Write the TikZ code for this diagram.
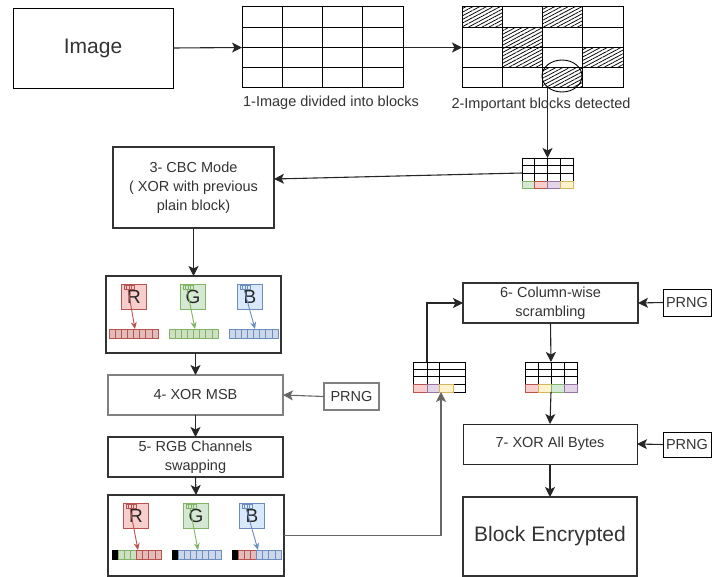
\documentclass[tikz,border=0pt]{standalone}
\usepackage{fontspec}
\setmainfont{Liberation Sans}
\usetikzlibrary{arrows.meta,patterns.meta,shapes.geometric}
\definecolor{rf}{HTML}{F8CECC}\definecolor{rs}{HTML}{B85450}
\definecolor{gf}{HTML}{D5E8D4}\definecolor{gs}{HTML}{82B366}
\definecolor{bf}{HTML}{DAE8FC}\definecolor{bs}{HTML}{6C8EBF}
\definecolor{pf}{HTML}{E1D5E7}\definecolor{ps}{HTML}{9673A6}
\definecolor{yf}{HTML}{FFF2CC}\definecolor{ys}{HTML}{D6B656}
\definecolor{kf}{HTML}{000000}\definecolor{txt}{HTML}{333333}
\colorlet{rb}{rs!40}\colorlet{gb}{gs!40}\colorlet{bb}{bs!35}
\tikzset{
  every node/.style={font=\fontsize{14.5}{19}\selectfont, text=txt},
  box/.style={draw=black!80, line width=1.1pt, inner sep=0pt, outer sep=0pt, align=center},
  gridbox/.style={draw=black, line width=1pt, inner sep=0pt, outer sep=0pt},
  sgbox/.style={draw=black, line width=0.8pt, inner sep=0pt, outer sep=0pt},
  arr/.style={-{Stealth[length=10pt,width=10pt,inset=2.5pt]}, line width=1.1pt, draw=black!85},
  hatch/.style={pattern={Lines[angle=28,distance=3.2pt,line width=0.75pt]}},
}
\newcommand\mychan[8]{%
  \node[draw=#4, fill=#3, line width=0.8pt, minimum size=25pt, inner sep=0pt, anchor=north west,
        font=\fontsize{19}{19}\selectfont, text=black!85] (#8) at (#1,#2) {#5};
  \foreach \k in {0,...,3} \draw[#4, line width=0.4pt] (#1+3+2.5*\k,#2+1) rectangle ++(2.5,4);
  \draw[#4, line width=0.9pt, -{Stealth[length=7pt,width=6pt]}] (#1+7,#2+5) -- (#6+26,#7);
}
\newcommand\mybar[3]{%
  \foreach \f/\s [count=\k from 0] in {#3}
    \filldraw[fill=\f, draw=\s, line width=0.7pt] (#1+6.125*\k,#2) rectangle ++(6.125,9.5);
}
\begin{document}
\begin{tikzpicture}[x=1pt,y=-1pt]
\useasboundingbox (0,0) rectangle (712,577);
% top row
\node[box, draw=black, line width=0.9pt, minimum width=160pt, minimum height=80pt,
      font=\fontsize{21}{21}\selectfont] (img) at (93,48) {Image};
\node[gridbox, minimum width=161pt, minimum height=81pt] (g1) at (322.5,47.5) {};
\foreach \i in {1,2,3} {
  \draw[line width=1pt] (242+40.25*\i,7) -- (242+40.25*\i,88);
  \draw[line width=1pt] (242,7+20.25*\i) -- (403,7+20.25*\i);
}
\node (l1) at (331,103) {1-Image divided into blocks};
\foreach \r/\c in {0/0,0/2,1/1,2/1,2/3,3/2}
  \fill[hatch] (462+40.25*\c,7+20.25*\r) rectangle ++(40.25,20.25);
\node[gridbox, minimum width=161pt, minimum height=81pt] (g2) at (542.5,47.5) {};
\foreach \i in {1,2,3} {
  \draw[line width=1pt] (462+40.25*\i,7) -- (462+40.25*\i,88);
  \draw[line width=1pt] (462,7+20.25*\i) -- (623,7+20.25*\i);
}
\node (l2) at (541,105) {2-Important blocks detected};
\node[draw, ellipse, line width=0.9pt, minimum width=40pt, minimum height=32pt, inner sep=0pt] (ell) at (562,76) {};
\draw[arr] (img.east) -- (g1.west);
\draw[arr] (g1.east) -- (g2.west);
% small grid 1
\node[sgbox, minimum width=51pt, minimum height=30pt] (sg1) at (547.5,173) {};
\foreach \yy in {165.67,173.33,181} \draw[line width=0.8pt] (522,\yy) -- (573,\yy);
\foreach \k in {1,2,3} \draw[line width=0.8pt] (522+12.75*\k,158) -- (522+12.75*\k,181);
\foreach \f/\s [count=\k from 0] in {gf/gs,rf/rs,pf/ps,yf/ys}
  \filldraw[fill=\f, draw=\s, line width=0.8pt] (522+12.75*\k,181) rectangle ++(12.75,7);
\draw[arr] (sg1.north |- g2.south) -- (sg1.north);
% left column
\node[box, minimum width=161pt, minimum height=81pt] (cbc) at (193.5,187.5) {3- CBC Mode\\( XOR with previous\\plain block)};
\draw[arr] (sg1.west) -- ([yshift=8.5pt]cbc.east);
\node[box, line width=2pt, minimum width=175pt, minimum height=77pt] (p1) at (193.5,314.5) {};
\mychan{121}{284}{rf}{rs}{R}{109}{329}{c1r}
\mychan{180}{284}{gf}{gs}{G}{169}{329}{c1g}
\mychan{237}{284}{bf}{bs}{B}{229}{329}{c1b}
\mybar{109}{329}{rb/rs,rb/rs,rb/rs,rb/rs,rb/rs,rb/rs,rb/rs,rb/rs}
\mybar{169}{329}{gb/gs,gb/gs,gb/gs,gb/gs,gb/gs,gb/gs,gb/gs,gb/gs}
\mybar{229}{329}{bb/bs,bb/bs,bb/bs,bb/bs,bb/bs,bb/bs,bb/bs,bb/bs}
\draw[arr] (cbc.south) -- (p1.north);
\node[box, draw=black!50, line width=2pt, minimum width=175pt, minimum height=40pt] (xor) at (195.5,395) {4- XOR MSB};
\node[box, draw=black!50, line width=2pt, minimum width=55pt, minimum height=27pt] (prng1) at (351.5,396.5) {PRNG};
\draw[arr] (xor.north |- p1.south) -- (xor.north);
\draw[arr, draw=black!60] (prng1.west) -- (xor.east);
\node[box, line width=1.5pt, minimum width=175pt, minimum height=40pt] (swap) at (195.5,457) {5- RGB Channels\\swapping};
\draw[arr] (xor.south) -- (swap.north);
\node[box, line width=2pt, minimum width=176pt, minimum height=81pt] (p2) at (196,535.5) {};
\mychan{123}{503}{rf}{rs}{R}{112}{550}{c2r}
\mychan{183}{503}{gf}{gs}{G}{172}{550}{c2g}
\mychan{239}{503}{bf}{bs}{B}{232}{550}{c2b}
\mybar{112}{550}{kf/kf,gb/gs,gb/gs,gb/gs,rb/rs,rb/rs,rb/rs,rb/rs}
\mybar{172}{550}{kf/kf,bb/bs,bb/bs,bb/bs,bb/bs,bb/bs,bb/bs,bb/bs}
\mybar{232}{550}{kf/kf,rb/rs,rb/rs,rb/rs,bb/bs,bb/bs,bb/bs,bb/bs}
\draw[arr] (swap.south) -- (p2.north);
% small grid 2
\node[sgbox, minimum width=52pt, minimum height=30pt] (sg2) at (439,377) {};
\foreach \yy in {369.33,376.67,384} \draw[line width=0.8pt] (413,\yy) -- (465,\yy);
\foreach \xx in {427,439} \draw[line width=0.8pt] (\xx,362) -- (\xx,384);
\filldraw[fill=rf, draw=rs, line width=0.8pt] (413,384) rectangle (427,392);
\filldraw[fill=pf, draw=ps, line width=0.8pt] (427,384) rectangle (439,392);
\filldraw[fill=yf, draw=ys, line width=0.8pt] (439,384) rectangle (453,392);
\draw[arr, draw=black!60] (p2.east) -| ([xshift=2pt]sg2.south);
% right column
\node[box, minimum width=175pt, minimum height=40pt] (col) at (550.5,303) {6- Column-wise\\scrambling};
\node[box, draw=black, line width=0.9pt, minimum width=48pt, minimum height=27pt] (prng2) at (687,302.5) {PRNG};
\draw[arr] ([xshift=-12pt]sg2.north) |- (col.west);
\draw[arr] (prng2.west) -- (col.east);
\node[sgbox, minimum width=52pt, minimum height=30pt] (sg3) at (551,377) {};
\foreach \yy in {369.33,376.67,384} \draw[line width=0.8pt] (525,\yy) -- (577,\yy);
\foreach \k in {1,2,3} \draw[line width=0.8pt] (525+13*\k,362) -- (525+13*\k,384);
\foreach \f/\s [count=\k from 0] in {rf/rs,yf/ys,gf/gs,pf/ps}
  \filldraw[fill=\f, draw=\s, line width=0.8pt] (525+13*\k,384) rectangle ++(13,8);
\draw[arr] (col.south) -- (sg3.north);
\node[box, draw=black!85, line width=1pt, minimum width=174pt, minimum height=40pt] (x7) at (550,444) {7- XOR All Bytes};
\node[box, draw=black, line width=0.9pt, minimum width=48pt, minimum height=25pt] (prng3) at (687,444.5) {PRNG};
\draw[arr] (sg3.south) -- (x7.north);
\draw[arr] (prng3.west) -- (x7.east);
\node[box, line width=1.1pt, minimum width=174pt, minimum height=79pt,
      font=\fontsize{21}{21}\selectfont] (enc) at (550,536.5) {Block Encrypted};
\draw[arr] (x7.south) -- (enc.north);
\end{tikzpicture}
\end{document}
